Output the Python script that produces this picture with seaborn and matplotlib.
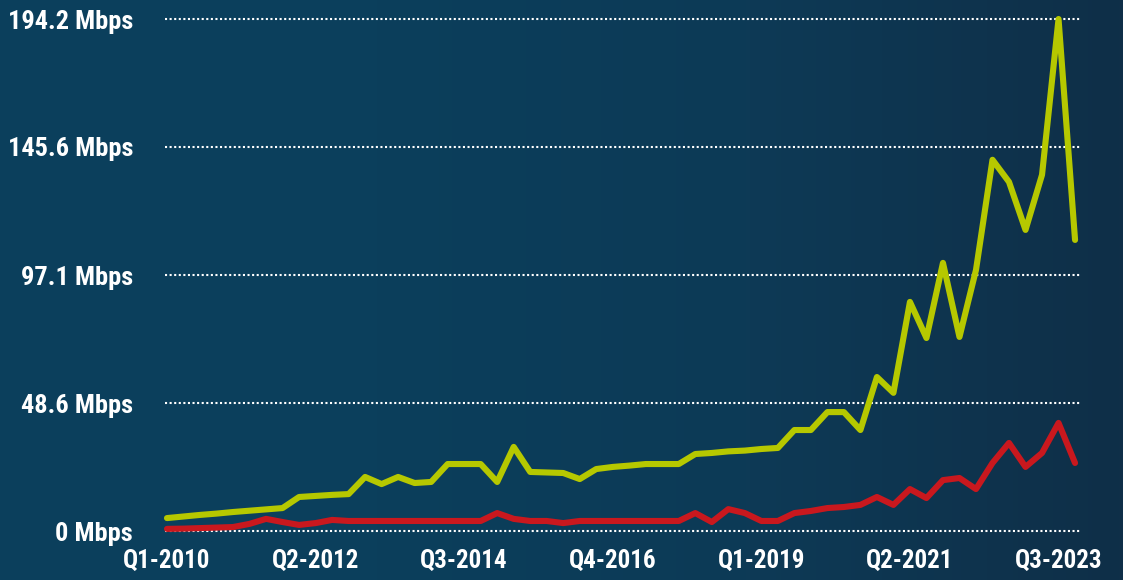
import numpy as np
import pandas as pd
import seaborn as sns
import matplotlib.pyplot as plt
from matplotlib.colors import LinearSegmentedColormap

# Quarterly speeds, Q1-2010 .. Q4-2023
download = [4.9, 5.5, 6.1, 6.6, 7.2, 7.7, 8.2, 8.7, 12.9, 13.3,
            13.7, 14.0, 20.5, 17.8, 20.5, 18.2, 18.6, 25.4, 25.4, 25.4,
            18.6, 31.9, 22.4, 22.2, 22.0, 19.7, 23.5, 24.3, 24.8, 25.4,
            25.4, 25.4, 29.2, 29.6, 30.2, 30.5, 31.1, 31.5, 38.3, 38.3,
            45.1, 45.1, 38.3, 58.4, 52.4, 86.9, 73.2, 101.7, 73.6, 99.0,
            140.8, 132.4, 114.2, 135.1, 194.2, 110.4]
upload = [0.8, 0.9, 1.1, 1.3, 1.5, 2.7, 4.6, 3.4, 2.3, 3.0,
          4.2, 3.8, 3.8, 3.8, 3.8, 3.8, 3.8, 3.8, 3.8, 3.8,
          6.8, 4.6, 3.8, 3.8, 3.0, 3.8, 3.8, 3.8, 3.8, 3.8,
          3.8, 3.8, 6.8, 3.4, 8.3, 6.8, 3.8, 3.8, 6.8, 7.6,
          8.7, 9.1, 9.9, 12.9, 9.9, 15.9, 12.5, 19.3, 20.1, 15.9,
          25.8, 33.4, 24.3, 29.6, 41.0, 25.8]
tick_pos = [0, 9, 18, 27, 36, 45, 54]
tick_labels = ["Q1-2010", "Q2-2012", "Q3-2014", "Q4-2016", "Q1-2019", "Q2-2021", "Q3-2023"]
y_ticks = [0, 48.55, 97.1, 145.65, 194.2]
y_labels = ["0 Mbps", "48.6 Mbps", "97.1 Mbps", "145.6 Mbps", "194.2 Mbps"]

df = pd.DataFrame({"quarter": range(len(download)), "download": download, "upload": upload})

sns.set_style("dark")
plt.rcParams["font.family"] = ["Roboto Condensed", "Liberation Sans Narrow", "DejaVu Sans"]
plt.rcParams["font.stretch"] = "condensed"
plt.rcParams["font.weight"] = "bold"

fig = plt.figure(figsize=(11.23, 5.80), dpi=100)

# background gradient (darker towards the right edge)
bg = fig.add_axes([0, 0, 1, 1], zorder=-10)
cmap = LinearSegmentedColormap.from_list("bg", ["#0b3f5c", "#0b3f5c", "#0d3a56", "#0f2f48"])
bg.imshow(np.linspace(0, 1, 256)[None, :], aspect="auto", cmap=cmap, extent=[0, 1, 0, 1])
bg.set_axis_off()

ax = fig.add_axes([165 / 1123, 1 - 531 / 580, (1080 - 165) / 1123, (531 - 19) / 580])
ax.set_facecolor("none")

sns.lineplot(data=df, x="quarter", y="download", ax=ax, color="#b6c800", linewidth=4.4, clip_on=False, zorder=3)
sns.lineplot(data=df, x="quarter", y="upload", ax=ax, color="#c9181e", linewidth=4.4, clip_on=False, zorder=3)

ax.set_xlim(-0.12, 55.3)
ax.set_ylim(0, 194.2)
for y in y_ticks:
    ax.axhline(y, color="white", linewidth=1.5, linestyle=(0, (1, 1.2)), zorder=2, clip_on=False)
ax.grid(False)
for s in ax.spines.values():
    s.set_visible(False)

ax.set_xticks(tick_pos)
ax.set_xticklabels(tick_labels)
ax.set_yticks(y_ticks)
ax.set_yticklabels(y_labels)
ax.tick_params(axis="both", length=0, labelcolor="white")
ax.tick_params(axis="y", pad=23, labelsize=19)
ax.tick_params(axis="x", pad=13, labelsize=18)
ax.set_xlabel("")
ax.set_ylabel("")

fig.savefig("out.png", dpi=100)
